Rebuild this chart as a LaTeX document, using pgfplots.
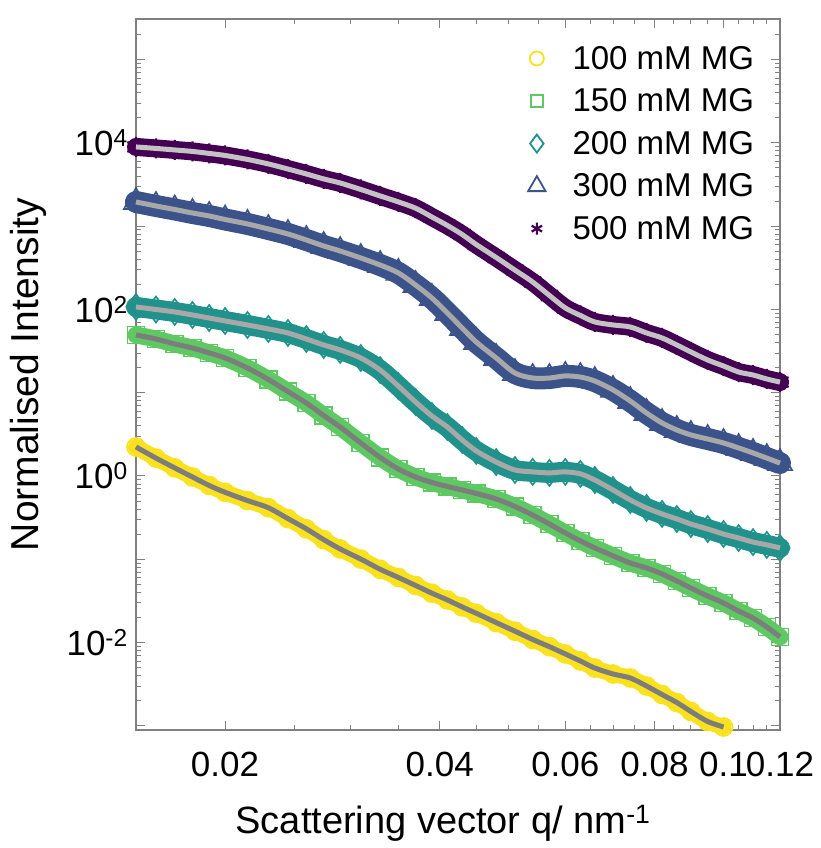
\documentclass[border=0pt]{standalone}
\usepackage{fontspec}
\setmainfont{Liberation Sans}
\usepackage{pgfplots}
\usepackage{pgfplotstable}
\pgfplotsset{compat=1.18}

\definecolor{yellowc}{RGB}{250,225,30}
\definecolor{greenc}{RGB}{94,201,98}
\definecolor{tealc}{RGB}{33,145,140}
\definecolor{bluec}{RGB}{59,82,139}
\definecolor{purplec}{RGB}{68,1,84}
\definecolor{fitlight}{RGB}{195,195,195}
\definecolor{fitmid}{RGB}{168,168,168}
\definecolor{fitdark}{RGB}{125,125,125}
\definecolor{axgray}{RGB}{128,128,128}

\pgfplotstableread{
q I
0.015 2.23
0.016 1.64
0.017 1.25
0.018 0.973
0.019 0.769
0.020 0.637
0.0215 0.507
0.023 0.416
0.0245 0.308
0.026 0.232
0.0275 0.172
0.029 0.133
0.031 0.1005
0.033 0.0759
0.035 0.0605
0.037 0.0485
0.039 0.0392
0.041 0.0325
0.043 0.0268
0.045 0.0225
0.048 0.0174
0.051 0.0137
0.054 0.0109
0.057 0.00893
0.060 0.00730
0.063 0.00601
0.066 0.00495
0.070 0.00420
0.074 0.00376
0.078 0.00301
0.082 0.00238
0.086 0.00191
0.090 0.00149
0.095 0.00113
0.100 0.00097
}\tabA

\pgfplotstableread{
q I
0.015 49.3
0.016 44.1
0.017 38.4
0.018 34.4
0.019 30.0
0.020 26.1
0.0215 19.8
0.023 14.4
0.0245 10.3
0.026 7.52
0.0275 5.32
0.029 3.87
0.031 2.49
0.033 1.67
0.035 1.21
0.037 0.973
0.039 0.836
0.041 0.748
0.043 0.679
0.045 0.617
0.048 0.530
0.051 0.430
0.054 0.340
0.057 0.265
0.060 0.207
0.063 0.166
0.066 0.137
0.070 0.110
0.074 0.0903
0.078 0.0787
0.082 0.0667
0.086 0.0549
0.090 0.0452
0.095 0.0362
0.100 0.0299
0.105 0.0239
0.110 0.0197
0.115 0.0154
0.120 0.0117
}\tabB

\pgfplotstableread{
q I
0.015 107
0.016 99.7
0.017 93.1
0.018 85.7
0.019 78.8
0.020 72.6
0.0215 65.0
0.023 58.2
0.0245 52.1
0.026 44.1
0.0275 37.4
0.029 32.6
0.031 26.1
0.033 18.7
0.035 12.0
0.037 7.73
0.039 5.25
0.041 3.87
0.043 2.71
0.045 2.00
0.048 1.47
0.051 1.18
0.054 1.12
0.057 1.09
0.060 1.12
0.063 1.06
0.066 0.895
0.070 0.679
0.074 0.515
0.078 0.413
0.082 0.350
0.086 0.305
0.090 0.265
0.095 0.231
0.100 0.201
0.105 0.180
0.110 0.161
0.115 0.149
0.120 0.137
}\tabC

\pgfplotstableread{
q I
0.015 1946
0.016 1743
0.017 1582
0.018 1436
0.019 1322
0.020 1200
0.0215 1060
0.023 923
0.0245 804
0.026 681
0.0275 577
0.029 502
0.031 414
0.033 341
0.035 274
0.037 196
0.039 137
0.041 90.5
0.043 59.8
0.045 40.6
0.048 26.1
0.051 17.2
0.054 15.0
0.057 15.0
0.060 15.9
0.063 15.4
0.066 13.8
0.070 10.8
0.074 7.95
0.078 5.70
0.082 4.33
0.086 3.57
0.090 3.11
0.095 2.78
0.100 2.49
0.105 2.17
0.110 1.89
0.115 1.64
0.120 1.43
}\tabD

\pgfplotstableread{
q I
0.015 8910
0.016 8550
0.017 8200
0.018 7870
0.019 7450
0.020 7040
0.0215 6310
0.023 5570
0.0245 4840
0.026 4220
0.0275 3680
0.029 3290
0.031 2750
0.033 2300
0.035 1950
0.037 1640
0.039 1285
0.041 1017
0.043 793
0.045 601
0.048 419
0.051 296
0.054 213
0.057 147
0.060 104
0.063 84.5
0.066 70.6
0.070 65.0
0.074 61.5
0.078 52.1
0.082 45.4
0.086 37.4
0.090 30.8
0.095 24.7
0.100 20.9
0.105 17.7
0.110 16.3
0.115 14.6
0.120 13.4
}\tabE

\begin{document}
\begin{tikzpicture}
\useasboundingbox (0,0) rectangle (821pt,848pt);
\begin{axis}[
  at={(136pt,118pt)}, anchor=south west,
  width=644pt, height=711pt, scale only axis,
  xmode=log, ymode=log,
  xmin=0.015, xmax=0.12, ymin=8.93e-4, ymax=3.06e5,
  xtick={0.02,0.04,0.06,0.08,0.1,0.12},
  xticklabels={0.02,0.04,0.06,0.08,0.1,0.12},
  minor xtick={0.015,0.025,0.03,0.035,0.045,0.05,0.055,0.065,0.07,0.075,0.085,0.09,0.095,0.105,0.11,0.115},
  ytick={1e-3,1e-2,1e-1,1,1e1,1e2,1e3,1e4,1e5},
  yticklabels={{},{10\textsuperscript{-2}},{},{10\textsuperscript{0}},{},{10\textsuperscript{2}},{},{10\textsuperscript{4}},{}},
  minor ytick={9e-4,2e-3,3e-3,4e-3,5e-3,6e-3,7e-3,8e-3,9e-3,2e-2,3e-2,4e-2,5e-2,6e-2,7e-2,8e-2,9e-2,0.2,0.3,0.4,0.5,0.6,0.7,0.8,0.9,2,3,4,5,6,7,8,9,20,30,40,50,60,70,80,90,200,300,400,500,600,700,800,900,2000,3000,4000,5000,6000,7000,8000,9000,2e4,3e4,4e4,5e4,6e4,7e4,8e4,9e4,2e5,3e5},
  tick align=inside,
  major tick length=9pt, minor tick length=5pt,
  axis line style={draw=axgray, line width=1.3pt},
  every tick/.style={draw=axgray, line width=1pt},
  every minor tick/.style={draw=axgray, line width=0.8pt},
  ticklabel style={font=\fontsize{35}{42}\selectfont, inner sep=0pt},
  xticklabel shift=22pt, yticklabel shift=8pt,
  xlabel={Scattering vector q/ nm\textsuperscript{-1}},
  label style={font=\fontsize{38}{46}\selectfont, inner sep=0pt},
  xlabel style={at={(axis description cs:0.5,0)}, anchor=base, xshift=-15pt, yshift=-103pt},
  clip=false,
  clip marker paths=true,
  legend style={at={(axis description cs:0.6087,0.962)}, anchor=north west,
    draw=none, fill=none, inner sep=0pt, row sep=18pt, column sep=27pt,
    font=\fontsize{33}{40}\selectfont, nodes={inner sep=0pt}},
  legend cell align=left,
]
% legend entries
\addlegendimage{only marks, mark=o, mark size=7pt, draw=yellowc, mark options={line width=1.8pt}}
\addlegendentry{100 mM MG}
\addlegendimage{only marks, mark=square, mark size=6pt, draw=greenc, mark options={line width=1.8pt}}
\addlegendentry{150 mM MG}
\addlegendimage{only marks, mark=diamond, mark size=9pt, draw=tealc, mark options={line width=1.8pt}}
\addlegendentry{200 mM MG}
\addlegendimage{only marks, mark=triangle, mark size=10pt, draw=bluec, mark options={line width=1.8pt}}
\addlegendentry{300 mM MG}
\addlegendimage{only marks, mark=asterisk, mark size=6pt, draw=purplec, mark options={line width=2.2pt}}
\addlegendentry{500 mM MG}

% 100 mM
\addplot[draw=yellowc, line width=16pt, line cap=round, line join=round, smooth, no marks, forget plot] table[x=q,y=I] {\tabA};
\addplot[only marks, mark=o, mark size=9pt, draw=yellowc, mark options={line width=1.6pt}, forget plot] table[x=q,y=I] {\tabA};
\addplot[draw=fitdark, line width=5pt, smooth, no marks, forget plot] table[x=q,y=I] {\tabA};
% 150 mM
\addplot[draw=greenc, line width=17pt, line cap=round, line join=round, smooth, no marks, forget plot] table[x=q,y=I] {\tabB};
\addplot[only marks, mark=square, mark size=8.5pt, draw=greenc, mark options={line width=1.6pt}, forget plot] table[x=q,y=I] {\tabB};
\addplot[draw=fitdark, line width=5pt, smooth, no marks, forget plot] table[x=q,y=I] {\tabB};
% 200 mM
\addplot[draw=tealc, line width=20pt, line cap=round, line join=round, smooth, no marks, forget plot] table[x=q,y=I] {\tabC};
\addplot[only marks, mark=diamond, mark size=13pt, draw=tealc, mark options={line width=1.6pt}, forget plot] table[x=q,y=I] {\tabC};
\addplot[draw=fitmid, line width=5pt, smooth, no marks, forget plot] table[x=q,y=I] {\tabC};
% 300 mM
\addplot[draw=bluec, line width=22pt, line cap=round, line join=round, smooth, no marks, forget plot] table[x=q,y=I] {\tabD};
\addplot[only marks, mark=triangle, mark size=14pt, draw=bluec, mark options={line width=1.6pt}, forget plot] table[x=q,y=I] {\tabD};
\addplot[draw=fitmid, line width=5pt, smooth, no marks, forget plot] table[x=q,y=I] {\tabD};
% 500 mM
\addplot[draw=purplec, line width=18pt, line cap=round, line join=round, smooth, no marks, forget plot] table[x=q,y=I] {\tabE};
\addplot[only marks, mark=asterisk, mark size=10pt, draw=purplec, mark options={line width=2.2pt}, forget plot] table[x=q,y=I] {\tabE};
\addplot[draw=fitlight, line width=5pt, smooth, no marks, forget plot] table[x=q,y=I] {\tabE};

\node[rotate=90, anchor=south, inner sep=0pt, font=\fontsize{39}{47}\selectfont]
  at ([xshift=-89pt]axis description cs:0,0.5) {Normalised Intensity};
\end{axis}
\end{tikzpicture}
\end{document}
